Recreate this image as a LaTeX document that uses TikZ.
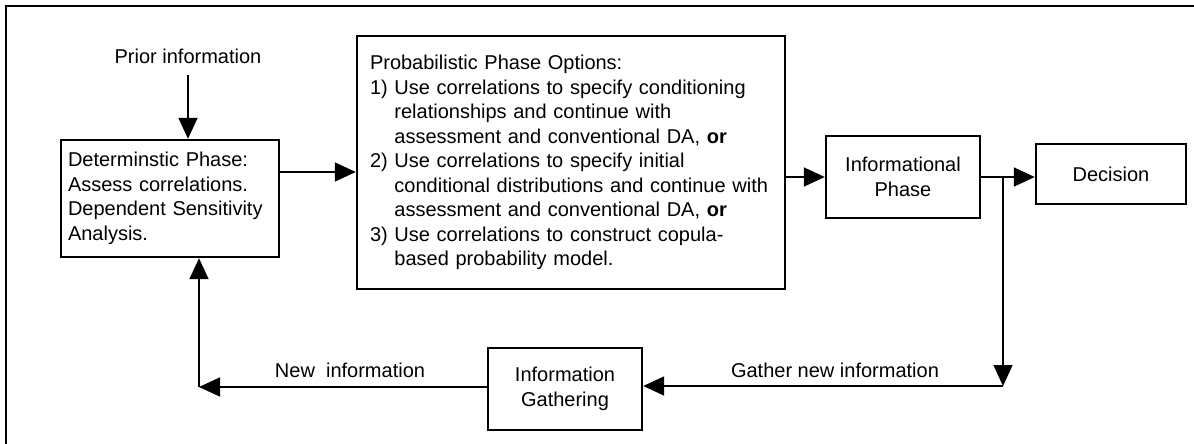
\documentclass[tikz,border=0pt]{standalone}
\usepackage{fontspec}
\setmainfont{Liberation Sans}
\usetikzlibrary{arrows.meta}
\begin{document}
\begin{tikzpicture}[x=1pt,y=-1pt,
  txt/.style={font=\fontsize{20}{24.5}\selectfont},
  box/.style={draw, line width=2.4pt, inner sep=0pt, txt},
  conn/.style={line width=1.6pt, -{Triangle[length=21pt,width=19pt]}},
  lbl/.style={inner sep=0pt, txt}]
\useasboundingbox (0,0) rectangle (1194,444);
\draw[line width=2.6pt] (6,448) -- (6,6) -- (1198,6);

\node[box, minimum width=218pt, minimum height=117pt, text width=204pt, align=left] (det) at (170,198.5)
  {Determinstic Phase:\\Assess correlations.\\Dependent Sensitivity\\Analysis.};
\node[box, minimum width=428pt, minimum height=253pt, text width=402pt, align=left] (prob) at (571,162.5)
  {Probabilistic Phase Options:\\
   1) Use correlations to specify conditioning\\
   \phantom{1)\ }relationships and continue with\\
   \phantom{1)\ }assessment and conventional DA, \textbf{or}\\
   2) Use correlations to specify initial\\
   \phantom{1)\ }conditional distributions and continue with\\
   \phantom{1)\ }assessment and conventional DA, \textbf{or}\\
   3) Use correlations to construct copula-\\
   \phantom{1)\ }based probability model.};
\node[box, minimum width=154pt, minimum height=82pt, align=center] (info) at (903,177) {Informational\\Phase};
\node[box, minimum width=150pt, minimum height=60pt, align=center] (dec) at (1111,174) {Decision};
\node[box, minimum width=154pt, minimum height=82pt, align=center] (ig) at (565,389) {Information\\Gathering};

\node[lbl] (prior) at (188,56) {Prior information};
\node[lbl] (newi) at (350,370) {New\ \ information};
\node[lbl] (gath) at (835,370) {Gather new information};

\coordinate (pa) at (188,75);
\coordinate (da) at (279,172);
\coordinate (J) at (1003,177);
\coordinate (C1) at (1003,386);
\coordinate (C2) at (199,387);

\draw[conn] (pa) -- (pa |- det.north);
\draw[conn] (da) -- (da -| prob.west);
\draw[conn] (info.west -| prob.east) -- (info.west);
\draw[conn] (info.east) -- (info.east -| dec.west);
\draw[conn] (J) -- (C1);
\draw[conn] (C1) -- (C1 -| ig.east);
\draw[conn] (C2 -| ig.west) -- (C2);
\draw[conn] (C2) -- (C2 |- det.south);
\end{tikzpicture}
\end{document}
